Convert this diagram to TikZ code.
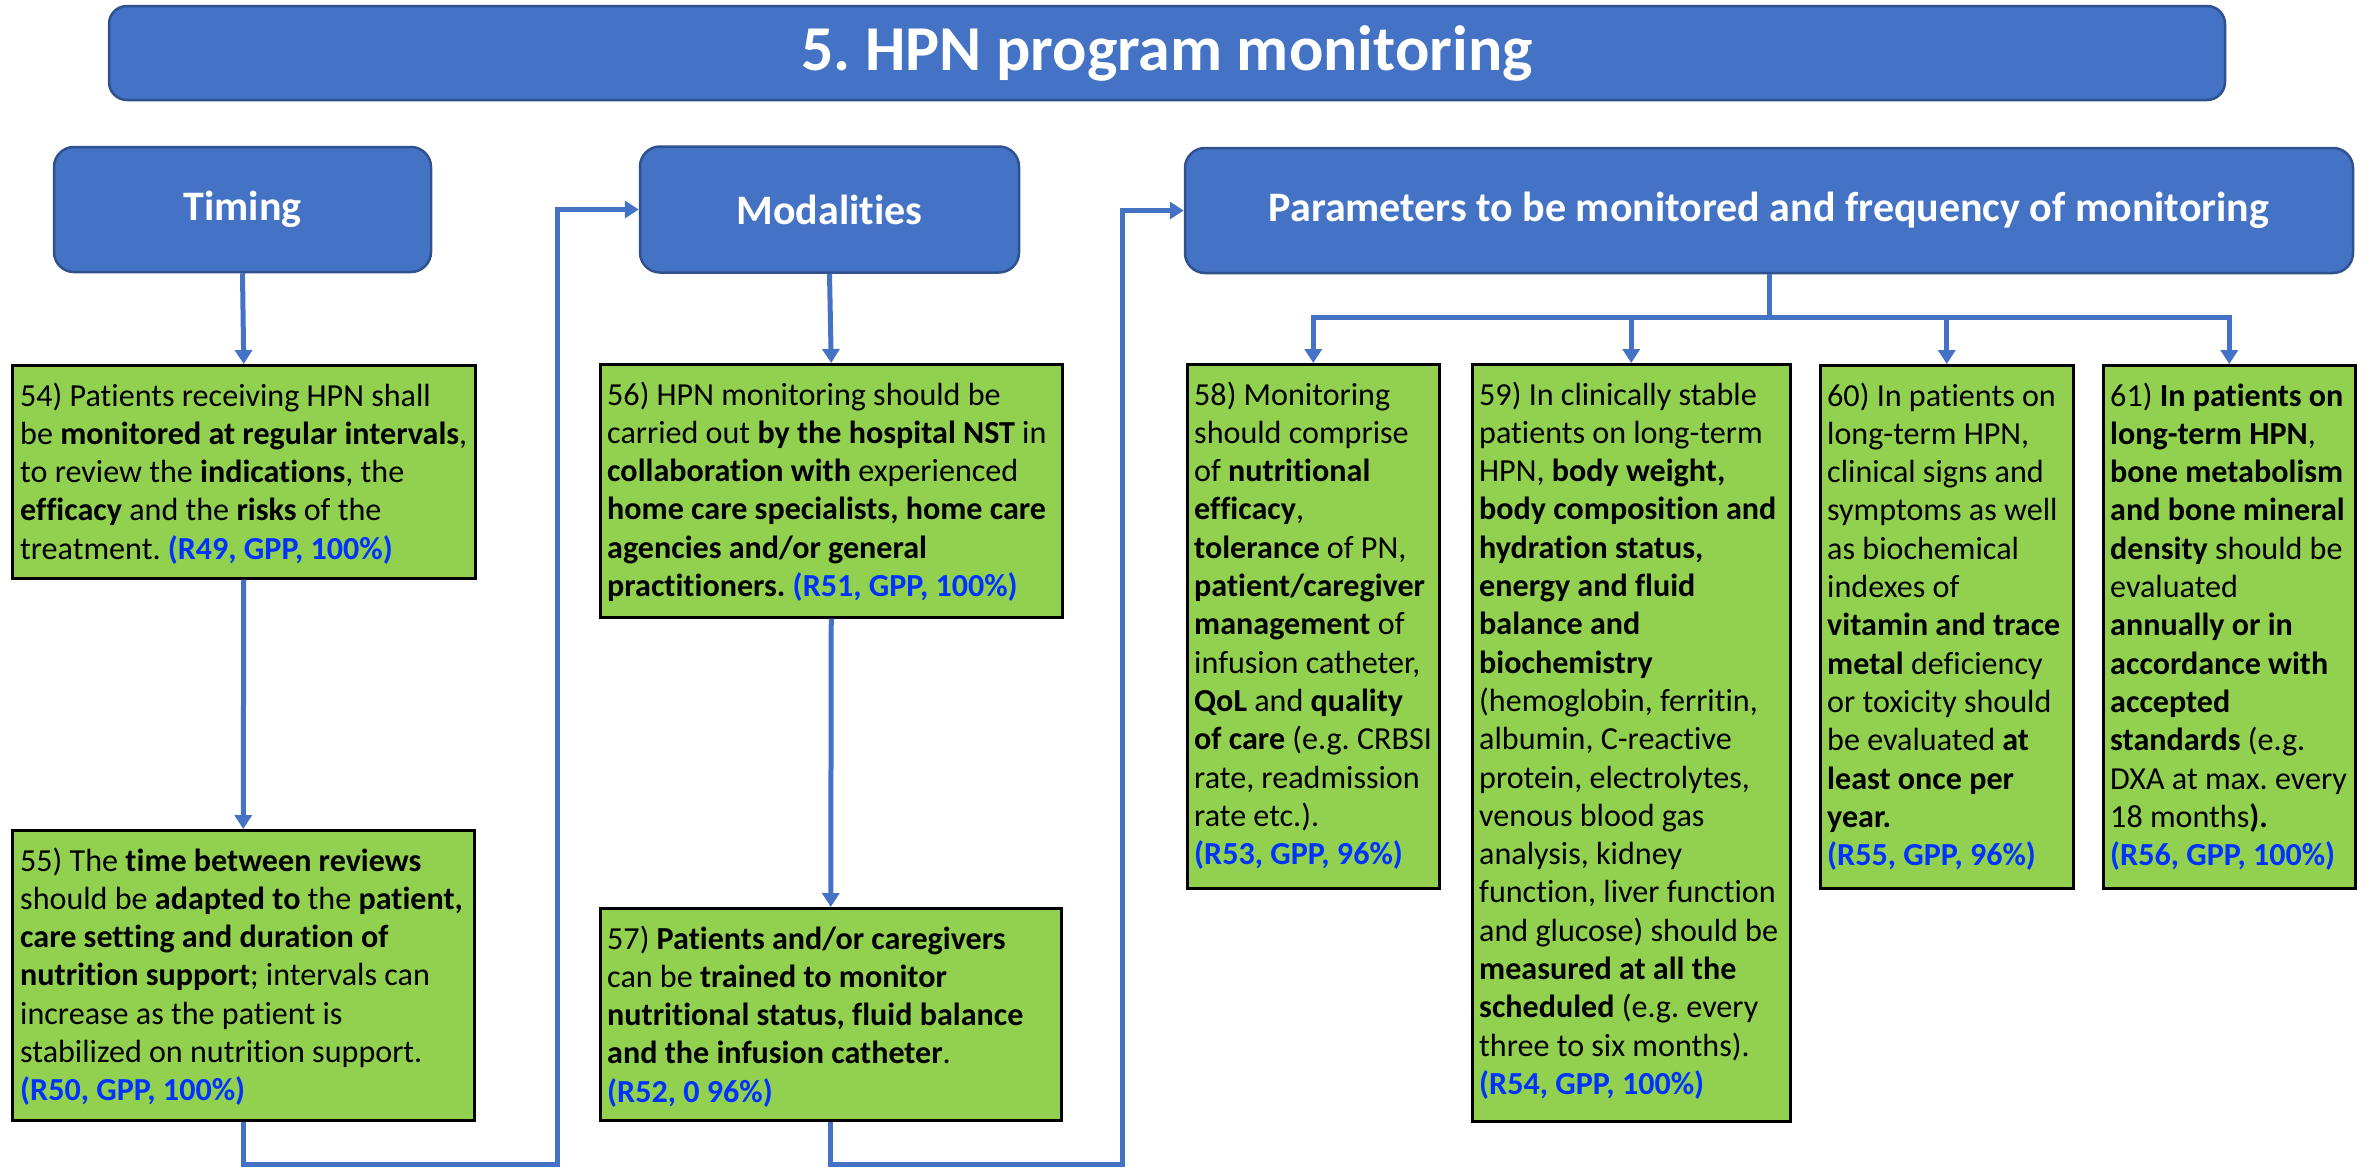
\documentclass[tikz,border=0pt]{standalone}
\usepackage{fontspec}
\setmainfont{Carlito}[Ligatures={NoCommon}]
\usetikzlibrary{arrows.meta}
\definecolor{hdrblue}{HTML}{4472C4}
\definecolor{hdrborder}{HTML}{2F528F}
\definecolor{boxgreen}{HTML}{92D050}
\definecolor{refblue}{RGB}{0,51,255}
\newcommand\bfx[1]{\textbf{#1}}
\newcommand\refx[1]{\textcolor{refblue}{\textbf{#1}}}
\frenchspacing
\begin{document}
\begin{tikzpicture}[x=1pt,y=-1pt,
 hdr/.style={draw=hdrborder, line width=2.5pt, fill=hdrblue, rounded corners=20pt, text=white, font=\fontsize{42}{50}\selectfont\bfseries, inner sep=0pt},
 gbox/.style={draw=black, line width=2.5pt, fill=boxgreen, inner sep=0pt, anchor=north west},
 gtext/.style={anchor=north west, align=left, inner sep=0pt, font=\fontsize{32.1}{38.3}\selectfont\frenchspacing},
 conn/.style={draw=hdrblue, line width=5pt},
 arr/.style={conn, -{Triangle[width=17pt,length=14pt]}}
]
\useasboundingbox (0,0) rectangle (2371,1167);

% title and headers
\node[hdr, rounded corners=18pt, minimum width=2116pt, minimum height=94pt, font=\fontsize{64}{70}\selectfont\bfseries] (title) at (1167,53) {5. HPN program monitoring};
\node[hdr, minimum width=377pt, minimum height=125pt] (tim) at (242.5,209.5) {Timing};
\node[hdr, minimum width=379pt, minimum height=126pt] (mod) at (829.5,209.5) {Modalities};
\node[hdr, minimum width=1168pt, minimum height=125pt] (par) at (1769,210.5) {Parameters to be monitored and frequency of monitoring};

% green boxes
\node[gbox, minimum width=463pt, minimum height=213pt] (b54) at (11,364) {};
\node[gbox, minimum width=462pt, minimum height=290pt] (b55) at (11,829) {};
\node[gbox, minimum width=462pt, minimum height=253pt] (b56) at (599,363) {};
\node[gbox, minimum width=461pt, minimum height=212pt] (b57) at (599,907) {};
\node[gbox, minimum width=252pt, minimum height=524pt] (b58) at (1186,363) {};
\node[gbox, minimum width=318pt, minimum height=757pt] (b59) at (1471,363) {};
\node[gbox, minimum width=253pt, minimum height=523pt] (b60) at (1819,364) {};
\node[gbox, minimum width=252pt, minimum height=523pt] (b61) at (2102,364) {};

% texts
\node[gtext] (t54) at ([shift={(9,15)}]b54.north west) {\strut 54) Patients receiving HPN shall\\
be \bfx{monitored at regular intervals},\\
to review the \bfx{indications}, the\\
\bfx{efficacy} and the \bfx{risks} of the\\
treatment. \refx{(R49, GPP, 100\%)}};

\node[gtext] (t55) at ([shift={(9,15)}]b55.north west) {\strut 55) The \bfx{time between reviews}\\
should be \bfx{adapted to} the \bfx{patient,}\\
\bfx{care setting and duration of}\\
\bfx{nutrition support}; intervals can\\
increase as the patient is\\
stabilized on nutrition support.\\
\refx{(R50, GPP, 100\%)}};

\node[gtext] (t56) at ([shift={(8,15)}]b56.north west) {\strut 56) HPN monitoring should be\\
carried out \bfx{by the hospital NST} in\\
\bfx{collaboration with} experienced\\
\bfx{home care specialists, home care}\\
\bfx{agencies and/or general}\\
\bfx{practitioners.} \refx{(R51, GPP, 100\%)}};

\node[gtext] (t57) at ([shift={(8,15)}]b57.north west) {\strut 57) \bfx{Patients and/or caregivers}\\
can be \bfx{trained to monitor}\\
\bfx{nutritional status, fluid balance}\\
\bfx{and the infusion catheter}.\\
\refx{(R52, 0 96\%)}};

\node[gtext] (t58) at ([shift={(8,15)}]b58.north west) {\strut 58) Monitoring\\
should comprise\\
of \bfx{nutritional}\\
\bfx{efficacy},\\
\bfx{tolerance} of PN,\\
\bfx{patient/caregiver}\\
\bfx{management} of\\
infusion catheter,\\
\bfx{QoL} and \bfx{quality}\\
\bfx{of care} (e.g. CRBSI\\
rate, readmission\\
rate etc.).\\
\refx{(R53, GPP, 96\%)}};

\node[gtext] (t59) at ([shift={(8,15)}]b59.north west) {\strut 59) In clinically stable\\
patients on long-term\\
HPN, \bfx{body weight,}\\
\bfx{body composition and}\\
\bfx{hydration status,}\\
\bfx{energy and fluid}\\
\bfx{balance and}\\
\bfx{biochemistry}\\
(hemoglobin, ferritin,\\
albumin, C-reactive\\
protein, electrolytes,\\
venous blood gas\\
analysis, kidney\\
function, liver function\\
and glucose) should be\\
\bfx{measured at all the}\\
\bfx{scheduled} (e.g. every\\
three to six months).\\
\refx{(R54, GPP, 100\%)}};

\node[gtext] (t60) at ([shift={(8,15)}]b60.north west) {\strut 60) In patients on\\
long-term HPN,\\
clinical signs and\\
symptoms as well\\
as biochemical\\
indexes of\\
\bfx{vitamin and trace}\\
\bfx{metal} deficiency\\
or toxicity should\\
be evaluated \bfx{at}\\
\bfx{least once per}\\
\bfx{year.}\\
\refx{(R55, GPP, 96\%)}};

\node[gtext] (t61) at ([shift={(8,15)}]b61.north west) {\strut 61) \bfx{In patients on}\\
\bfx{long-term HPN},\\
\bfx{bone metabolism}\\
\bfx{and bone mineral}\\
\bfx{density} should be\\
evaluated\\
\bfx{annually or in}\\
\bfx{accordance with}\\
\bfx{accepted}\\
\bfx{standards} (e.g.\\
DXA at max. every\\
18 months\bfx{).}\\
\refx{(R56, GPP, 100\%)}};

% connectors
\draw[arr] (tim.south) -- (b54.north);
\draw[arr] (b54.south) -- (b55.north);
\draw[arr] (mod.south) -- (b56.north);
\draw[arr] (b56.south) -- (b57.north);

\coordinate (l1) at (557,1164);
\coordinate (l2) at (1122,1164);
\draw[arr] (b55.south) |- (l1) |- (mod.west);
\draw[arr] (b57.south) |- (l2) |- (par.west);

\coordinate (pj) at (1769,317);
\draw[conn] (par.south) -- (pj);
\draw[arr] (pj) -| (b58.north);
\draw[arr] (pj) -| (b59.north);
\draw[arr] (pj) -| (b60.north);
\draw[arr] (pj) -| (b61.north);
\end{tikzpicture}
\end{document}
